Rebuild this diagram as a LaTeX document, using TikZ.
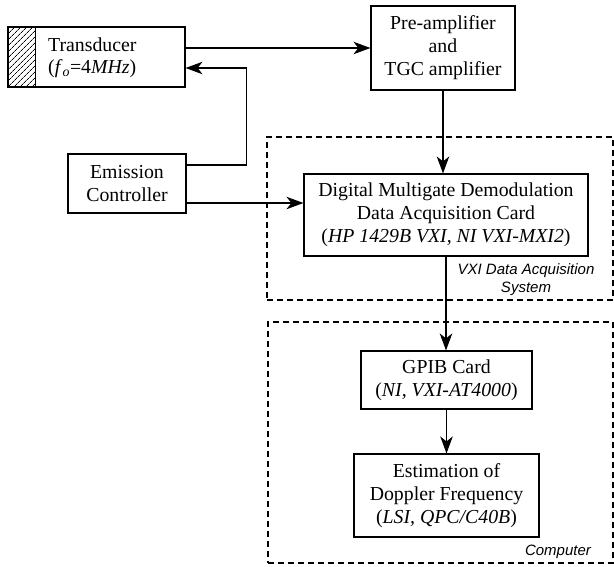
\documentclass[tikz,border=0pt]{standalone}
\usepackage{fontspec}
\setmainfont{Liberation Serif}
\newfontfamily\labfont{Liberation Sans}
\usetikzlibrary{arrows.meta,patterns.meta}
\begin{document}
\begin{tikzpicture}[x=1pt,y=-1pt,
  blk/.style={draw, line width=1.1pt, inner sep=0pt, align=center, font=\fontsize{19.8}{23}\selectfont},
  conn/.style={line width=1.1pt},
  arr/.style={conn,-{Stealth[length=17pt,width=12.5pt,inset=5pt]}},
  grp/.style={draw, dash pattern=on 6pt off 4pt, line width=1.1pt, inner sep=0pt},
  lab/.style={font=\labfont\itshape\fontsize{15}{18}\selectfont, align=center, inner sep=0pt}]
\useasboundingbox (0,0) rectangle (614,566);
% groups
\node[grp, minimum width=346pt, minimum height=163pt] (vxi) at (440,218.5) {};
\node[grp, minimum width=345pt, minimum height=241pt] (comp) at (440.5,442.5) {};
% blocks
\node[blk, minimum width=177pt, minimum height=60pt] (tr) at (96.5,57) {};
\fill[pattern={Lines[angle=45,distance=4pt,line width=0.7pt]}] (tr.north west) rectangle ([xshift=28pt]tr.south west);
\draw[line width=1.1pt] ([xshift=28pt]tr.north west) -- ([xshift=28pt]tr.south west);
\node[font=\fontsize{19.8}{22}\selectfont, align=left, anchor=west, inner sep=0pt] (trtext) at (48,58) {Transducer\\(\textit{f}\textsubscript{\textit{o}}=4\textit{MHz})};
\node[blk, minimum width=144pt, minimum height=84pt] (pre) at (443,48) {Pre-amplifier\\and\\TGC amplifier};
\node[blk, minimum width=118pt, minimum height=59pt] (em) at (127,183.5) {Emission\\Controller};
\node[blk, minimum width=284pt, minimum height=82pt] (dmd) at (446,215) {Digital Multigate Demodulation\\Data Acquisition Card\\(\textit{HP 1429B VXI, NI VXI-MXI2})};
\node[blk, minimum width=171pt, minimum height=58pt] (gpib) at (446.5,380) {GPIB Card\\(\textit{NI, VXI-AT4000})};
\node[blk, minimum width=185pt, minimum height=83pt] (est) at (446.5,495.5) {Estimation of\\Doppler Frequency\\(\textit{LSI, QPC/C40B})};
% labels
\node[lab] (vxilab) at (526,280) {VXI Data Acquisition\\System};
\node[lab] (complab) at (558,552) {Computer};
% connectors
\draw[arr] ([yshift=9pt]tr.east) -- (pre.west);
\draw[arr] ([yshift=18.5pt]em.east) -| ([xshift=61pt,yshift=-11pt]tr.east) -- ([yshift=-11pt]tr.east);
\draw[arr] ([yshift=-19.5pt]em.east) -- ([yshift=-19.5pt]em.east -| dmd.west);
\draw[arr] (pre.south) -- (pre.south |- dmd.north);
\draw[arr] (dmd.south) -- (dmd.south |- gpib.north);
\draw[arr] (gpib.south) -- (est.north);
\end{tikzpicture}
\end{document}
